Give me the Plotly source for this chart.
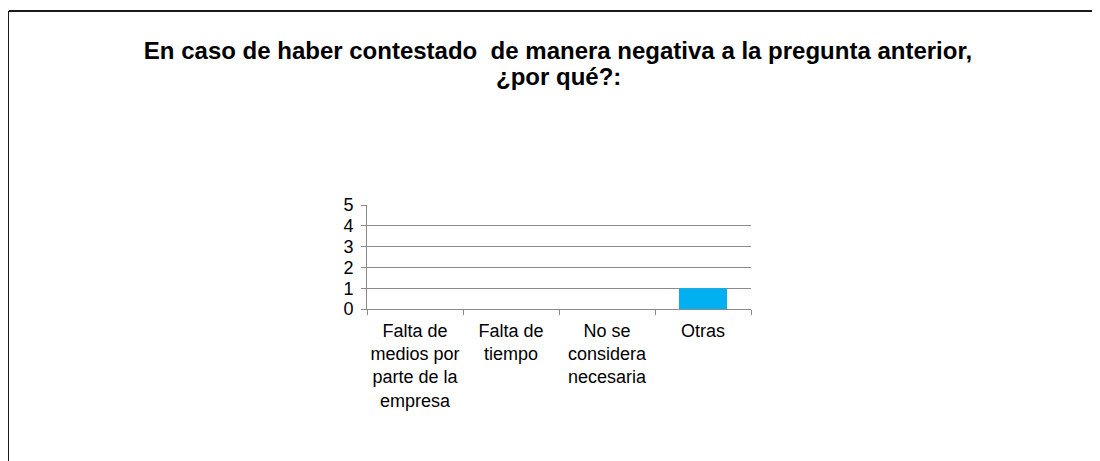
import plotly.graph_objects as go

categories = ["Falta de<br>medios por<br>parte de la<br>empresa", "Falta de<br>tiempo", "No se<br>considera<br>necesaria", "Otras"]
values = [0, 0, 0, 1]
title_line1 = "En caso de haber contestado  de manera negativa a la pregunta anterior,"
title_line2 = "¿por qué?:"

L, T, W, H = 359, 197, 384, 104
FW, FH = 1100, 461

fig = go.Figure(go.Bar(x=categories, y=values, marker=dict(color="#00B0F0", line=dict(width=0)), width=0.5))

fig.update_layout(
    width=FW, height=FH,
    margin=dict(l=L, r=FW - L - W, t=T, b=FH - T - H, autoexpand=False),
    paper_bgcolor="white", plot_bgcolor="white",
    font=dict(family="Liberation Sans, Arial", size=18, color="black"),
    showlegend=False,
    title=dict(text="<b>" + title_line1 + "</b>", x=0.5, xref="container", xanchor="center",
               y=1 - 43 / FH, yref="container", yanchor="middle",
               font=dict(size=24, family="Liberation Sans, Arial", color="black")),
)
fig.add_annotation(text="<b>" + title_line2 + "</b>", xref="paper", yref="paper",
                   x=(550 - L) / W, y=1 + (T - 68) / H, xanchor="center", yanchor="middle",
                   showarrow=False, font=dict(size=24, family="Liberation Sans, Arial", color="black"))

fig.update_yaxes(range=[0, 5.0001], tickvals=[0, 1, 2, 3, 4, 5], showgrid=True, gridcolor="#8a8a8a", gridwidth=1,
                 showline=True, linecolor="#8a8a8a", ticks="outside", ticklen=5, tickcolor="#8a8a8a",
                 zeroline=False, ticklabelstandoff=4)
fig.update_xaxes(showline=True, linecolor="#8a8a8a", ticks="outside", ticklen=5, tickcolor="#8a8a8a",
                 tickson="boundaries", showgrid=False, ticklabelstandoff=5, tickangle=0)

fig.add_shape(type="line", xref="paper", yref="paper", x0=(1 - L) / W, x1=(FW - L) / W,
              y0=1 + (T - 3) / H, y1=1 + (T - 3) / H, line=dict(color="#1a1a1a", width=2))
fig.add_shape(type="line", xref="paper", yref="paper", x0=(0 - L) / W, x1=(0 - L) / W,
              y0=1 + (T - 3) / H, y1=1 - (FH - T) / H, line=dict(color="#1a1a1a", width=2))

fig.write_html("out.html")
